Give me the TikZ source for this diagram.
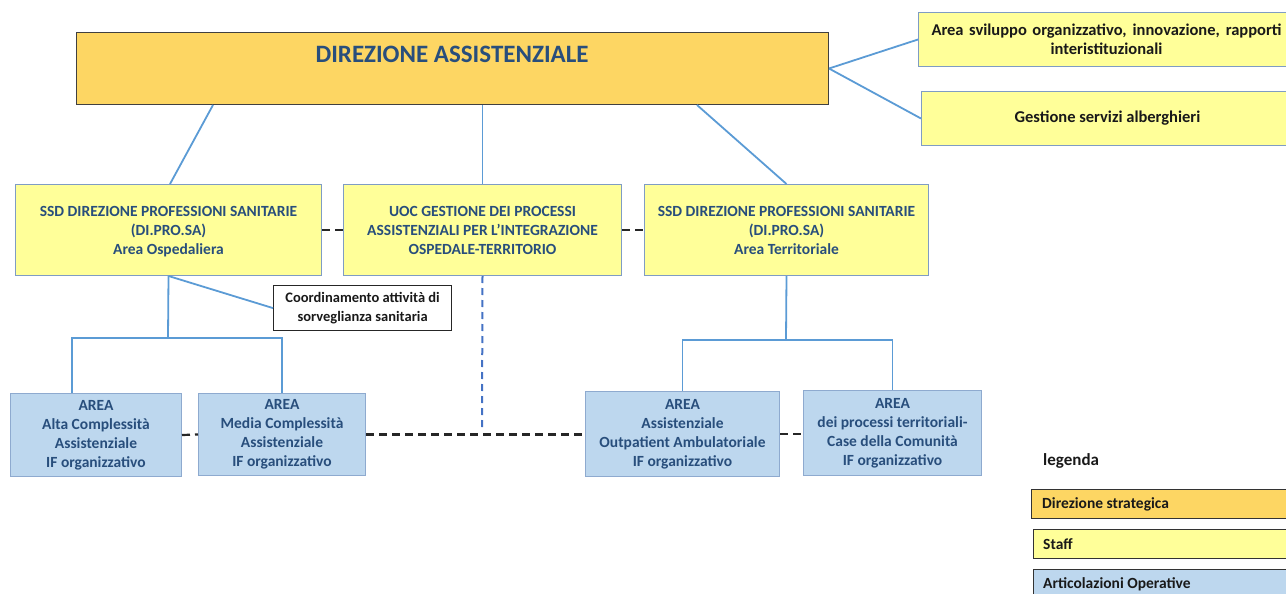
\documentclass[tikz,border=0pt]{standalone}
\usepackage{fontspec}
\setmainfont{Carlito}
\definecolor{gold}{HTML}{FDD663}
\definecolor{staffy}{HTML}{FFFF99}
\definecolor{operblue}{HTML}{BDD7EE}
\definecolor{textblue}{HTML}{284E7C}
\definecolor{connblue}{HTML}{5B9BD5}
\definecolor{staffedge}{HTML}{7F9CC4}
\definecolor{operedge}{HTML}{8EAACF}
\definecolor{dashblue}{HTML}{4472C4}
\begin{document}
\begin{tikzpicture}[x=1pt,y=-1pt,
  every node/.style={font=\bfseries},
  box/.style={draw, line width=1pt, inner sep=0pt, align=center, anchor=north west},
  strat/.style={box, fill=gold, draw=black!75},
  staff/.style={box, fill=staffy, draw=staffedge},
  oper/.style={box, fill=operblue, draw=operedge},
  bluetxt/.style={text=textblue, font=\fontsize{15.5}{19}\selectfont\bfseries},
  blktxt/.style={text=black!90, font=\fontsize{16.5}{19}\selectfont\bfseries},
  legbox/.style={box, draw=black!80, minimum width=300pt, minimum height=29pt},
  legtxt/.style={anchor=west, inner sep=0pt, text=black!90, font=\fontsize{15.5}{19}\selectfont\bfseries},
  conn/.style={draw=connblue, line width=1.8pt},
  link/.style={draw=black!85, line width=2.2pt, dash pattern=on 8pt off 5pt},
  bluelink/.style={draw=dashblue, line width=2pt, dash pattern=on 7pt off 5pt},
]
\clip (0,0) rectangle (1286,594);

% strategic direction
\node[strat, minimum width=752pt, minimum height=72pt] (main) at (76,32) {};
\node[text=textblue, font=\fontsize{25}{30}\selectfont\bfseries] (title) at (452,54) {DIREZIONE ASSISTENZIALE};

% staff units
\node[staff, blktxt, minimum width=376pt, minimum height=54pt] (st1) at (918,12)
  {\makebox[350pt][s]{Area sviluppo organizzativo, innovazione, rapporti}\\interistituzionali};
\node[staff, blktxt, minimum width=372pt, minimum height=54pt] (st2) at (921,91)
  {Gestione servizi alberghieri};

% second level
\node[staff, bluetxt, minimum width=306pt, minimum height=91pt, text depth=-4pt] (ssdL) at (15,184)
  {SSD DIREZIONE PROFESSIONI SANITARIE\\(DI.PRO.SA)\\Area Ospedaliera};
\node[staff, bluetxt, minimum width=278pt, minimum height=91pt, text depth=-4pt] (uoc) at (343,184)
  {UOC GESTIONE DEI PROCESSI\\ASSISTENZIALI PER L’INTEGRAZIONE\\OSPEDALE-TERRITORIO};
\node[staff, bluetxt, minimum width=284pt, minimum height=91pt, text depth=-4pt] (ssdR) at (644,184)
  {SSD DIREZIONE PROFESSIONI SANITARIE\\(DI.PRO.SA)\\Area Territoriale};

\node[box, fill=white, draw=black!85, line width=1.2pt, minimum width=178pt, minimum height=45pt,
  text=black!90, font=\fontsize{14.5}{19}\selectfont\bfseries] (coord) at (273,285)
  {Coordinamento attività di\\sorveglianza sanitaria};

% operative areas
\node[oper, bluetxt, minimum width=171pt, minimum height=83pt] (a1) at (10,393)
  {AREA\\Alta Complessità\\Assistenziale\\IF organizzativo};
\node[oper, bluetxt, minimum width=167pt, minimum height=82pt] (a2) at (198,393)
  {AREA\\Media Complessità\\Assistenziale\\IF organizzativo};
\node[oper, bluetxt, minimum width=194pt, minimum height=85pt] (a3) at (585,391)
  {AREA\\Assistenziale\\Outpatient Ambulatoriale\\IF organizzativo};
\node[oper, bluetxt, minimum width=178pt, minimum height=85pt] (a4) at (803,390)
  {AREA\\dei processi territoriali-\\Case della Comunità\\IF organizzativo};

% legend
\node[anchor=west, inner sep=0pt, text=black!90, font=\fontsize{17}{20}\selectfont\bfseries] (legtitle) at (1043,461) {legenda};
\node[legbox, fill=gold] (leg1) at (1031,489) {};
\node[legtxt] (leg1t) at ([xshift=11pt]leg1.west) {Direzione strategica};
\node[legbox, fill=staffy] (leg2) at (1033,529) {};
\node[legtxt] (leg2t) at ([xshift=10pt]leg2.west) {Staff};
\node[legbox, fill=operblue] (leg3) at (1033,569) {};
\node[legtxt] (leg3t) at ([xshift=10pt]leg3.west) {Articolazioni Operative};

% junction points
\coordinate (jL) at (168,338);
\coordinate (jR) at (786,340);
\coordinate (jU) at (482,428);

% hierarchy connectors
\draw[conn] ([xshift=137pt]main.south west) -- ([xshift=155pt]ssdL.north west);
\draw[conn] (main.south -| uoc.north) -- (uoc.north);
\draw[conn] ([xshift=621pt]main.south west) -- (ssdR.north);
\draw[conn] (main.east) -- (st1.west);
\draw[conn] (main.east) -- (st2.west);

\draw[conn] (ssdL.south) -- (jL);
\draw[conn] (ssdL.south) -- (coord.west);
\draw[conn] ([xshift=62pt]a1.north west) |- (jL) -| (a2.north);

\draw[conn] (ssdR.south) -- (jR);
\draw[conn] (a3.north) |- (jR) -| (a4.north);

% functional links
\draw[link] (ssdL.east) -- (uoc.west);
\draw[link] (uoc.east) -- (ssdR.west);
\draw[link] (a1.east) -- (a2.west);
\draw[link] (a2.east) -- (a2.east -| a3.west);
\draw[link] (a3.east) -- (a3.east -| a4.west);
\draw[bluelink] (uoc.south) -- (jU);
\end{tikzpicture}
\end{document}
